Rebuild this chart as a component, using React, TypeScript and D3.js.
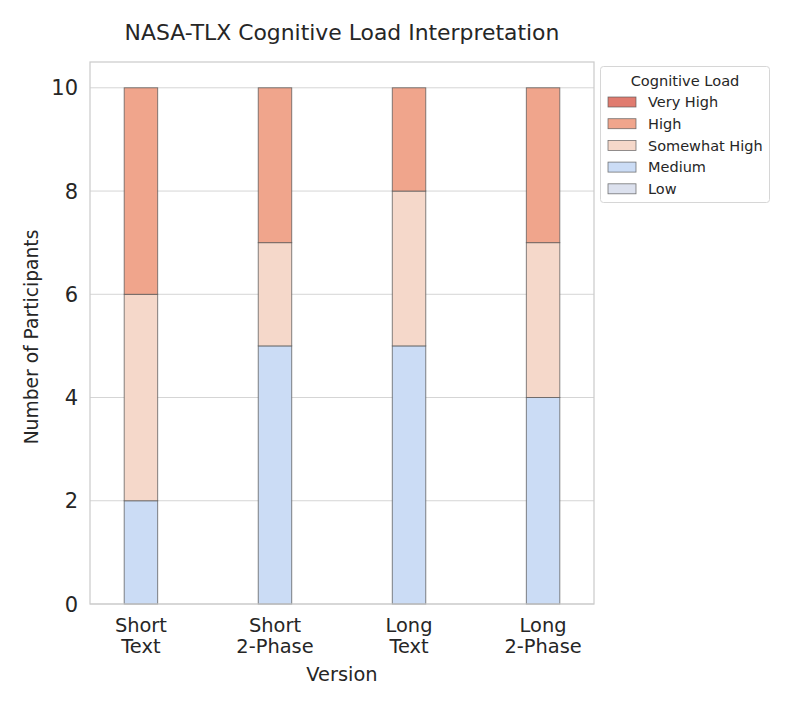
import React from "react";
import * as d3 from "d3";

const versions = ["Short\nText", "Short\n2-Phase", "Long\nText", "Long\n2-Phase"];
const levels = ["Low", "Medium", "Somewhat High", "High", "Very High"];
const lowVals = [0, 0, 0, 0];
const mediumVals = [2, 5, 5, 4];
const somewhatHighVals = [4, 2, 3, 3];
const highVals = [4, 3, 2, 3];
const veryHighVals = [0, 0, 0, 0];
const levelColors = ["#dce1ee", "#cbdcf5", "#f5d8ca", "#f0a58c", "#e07b6f"];
const yTicks = [0, 2, 4, 6, 8, 10];

export default function App() {
  const W = 793, H = 705;
  const left = 90, right = 594, top = 62, bottom = 604;
  const series = [lowVals, mediumVals, somewhatHighVals, highVals, veryHighVals];
  const rows = versions.map((v, i) => {
    const r: any = { version: v };
    levels.forEach((l, j) => (r[l] = series[j][i]));
    return r;
  });
  const stacked = d3.stack().keys(levels)(rows);
  const x = d3.scaleLinear().domain([-0.38, 3.38]).range([left, right]);
  const y = d3.scaleLinear().domain([0, 10.5]).range([bottom, top]);
  const bw = x(0.125) - x(-0.125);
  const font = "DejaVu Sans, sans-serif";
  const legendItems = [...levels].reverse();
  return (
    <svg width={W} height={H} style={{ display: "block", position: "absolute", left: 0, top: 0 }} fontFamily={font}>
      <rect width={W} height={H} fill="#fff" />
      {yTicks.map((t) => (
        <line key={t} x1={left} x2={right} y1={y(t)} y2={y(t)} stroke="#d5d5d5" strokeWidth={1} />
      ))}
      {stacked.map((s, j) =>
        s.map((d, i) =>
          d[1] - d[0] > 0 ? (
            <rect
              key={`${j}-${i}`}
              x={x(i) - bw / 2}
              y={y(d[1])}
              width={bw}
              height={y(d[0]) - y(d[1])}
              fill={levelColors[j]}
              stroke="#555"
              strokeOpacity={0.8}
              strokeWidth={0.9}
            />
          ) : null
        )
      )}
      <rect x={left} y={top} width={right - left} height={bottom - top} fill="none" stroke="#cccccc" strokeWidth={1.25} />
      {yTicks.map((t) => (
        <text key={t} x={left - 12} y={y(t)} dy="0.36em" textAnchor="end" fontSize={21} fill="#262626">{t}</text>
      ))}
      {versions.map((v, i) => (
        <text key={v} x={x(i)} textAnchor="middle" fontSize={19.4} fill="#262626">
          {v.split("\n").map((ln, k) => (
            <tspan key={k} x={x(i)} y={632 + k * 21}>{ln}</tspan>
          ))}
        </text>
      ))}
      <text x={(left + right) / 2} y={681} textAnchor="middle" fontSize={19.4} fill="#262626">Version</text>
      <text transform={`translate(38,${(top + bottom) / 2 + 4}) rotate(-90)`} textAnchor="middle" fontSize={18.7} fill="#262626">Number of Participants</text>
      <text x={(left + right) / 2} y={40} textAnchor="middle" fontSize={21.9} fill="#262626">NASA-TLX Cognitive Load Interpretation</text>
      <g>
        <rect x={600.5} y={66.5} width={169} height={136} rx={3} fill="#fff" stroke="#d6d6d6" />
        <text x={685} y={86} textAnchor="middle" fontSize={14.6} fill="#262626">Cognitive Load</text>
        {legendItems.map((l, k) => {
          const yy = 102 + k * 21.7;
          const c = levelColors[levels.indexOf(l)];
          return (
            <g key={l}>
              <rect x={608} y={yy - 5} width={28} height={10} fill={c} stroke="#555" strokeOpacity={0.8} strokeWidth={0.8} />
              <text x={648} y={yy} dy="0.36em" fontSize={14.5} fill="#262626">{l}</text>
            </g>
          );
        })}
      </g>
    </svg>
  );
}
